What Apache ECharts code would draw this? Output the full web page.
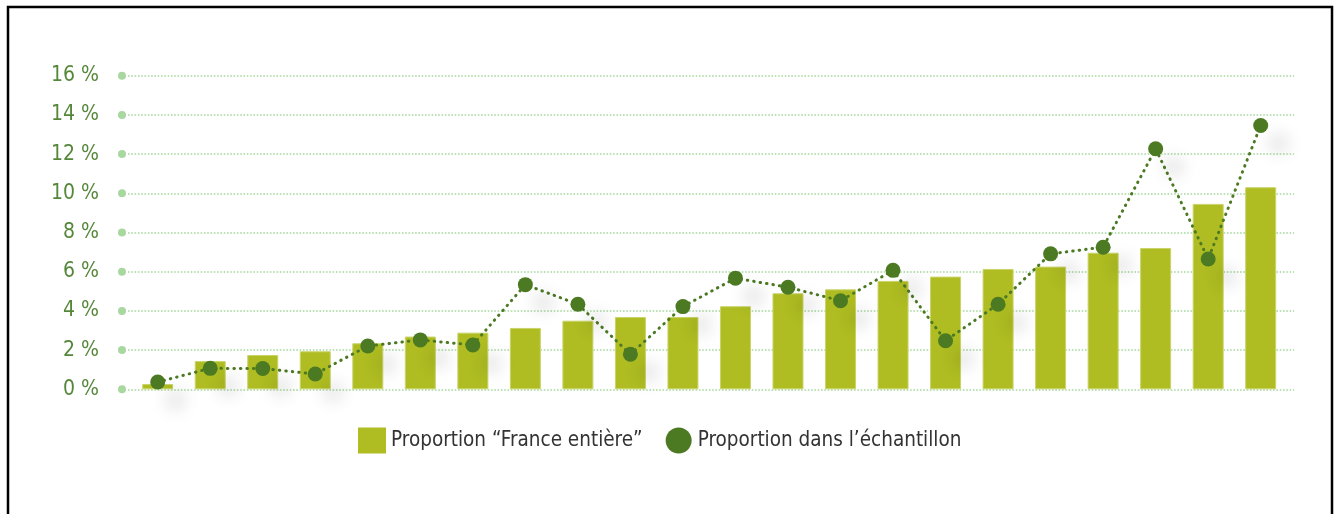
<!DOCTYPE html>
<html>
<head>
<meta charset="utf-8">
<script src="https://cdn.jsdelivr.net/npm/echarts@6/dist/echarts.min.js"></script>
<style>
html,body{margin:0;padding:0;background:#fff;}
#chart{width:1341px;height:514px;}
</style>
</head>
<body>
<div id="chart"></div>
<script>
// Data
const categories = ['1','2','3','4','5','6','7','8','9','10','11','12','13','14','15','16','17','18','19','20','21','22'];
const franceEntiere = [0.27, 1.44, 1.75, 1.94, 2.35, 2.69, 2.89, 3.13, 3.50, 3.69, 3.69, 4.24, 4.90, 5.10, 5.53, 5.75, 6.14, 6.26, 6.97, 7.21, 9.46, 10.31];
const echantillon = [0.37, 1.07, 1.06, 0.78, 2.21, 2.52, 2.26, 5.34, 4.34, 1.79, 4.22, 5.67, 5.21, 4.52, 6.07, 2.48, 4.34, 6.91, 7.25, 12.27, 6.65, 13.46];
const yTicks = [0, 2, 4, 6, 8, 10, 12, 14, 16];
const seriesNames = ['Proportion \u201cFrance enti\u00e8re\u201d', 'Proportion dans l\u2019\u00e9chantillon'];

const FONT = '"Liberation Sans Narrow", "DejaVu Sans Condensed", "Arial Narrow", "Liberation Sans", sans-serif';
const chart = echarts.init(document.getElementById('chart'));

const barData = categories.map((c, i) => [i, franceEntiere[i]]);
const lineData = categories.map((c, i) => [i, echantillon[i]]);

chart.setOption({
  animation: false,
  backgroundColor: '#ffffff',
  graphic: [{
    type: 'rect',
    shape: { x: 8, y: 7, width: 1324, height: 620 },
    style: { fill: 'none', stroke: '#000', lineWidth: 2.5 },
    silent: true
  }],
  grid: { left: 128, right: 47, top: 75.7, bottom: 124.7, containLabel: false },
  xAxis: {
    type: 'value',
    min: -0.5655,
    max: 21.634,
    show: false,
    splitLine: { show: false }
  },
  yAxis: {
    type: 'value',
    min: yTicks[0],
    max: yTicks[yTicks.length - 1],
    interval: 2,
    axisLine: { show: false },
    axisTick: { show: false },
    splitLine: { show: true, lineStyle: { color: '#a8d8a0', width: 1.6, type: [1.6, 1.7] } },
    axisLabel: {
      margin: 2,
      formatter: function (v) { return '{v|' + v + ' %}{s|}{d|}'; },
      rich: {
        v: { fontFamily: FONT, fontSize: 21, color: '#55873a' },
        s: { width: 19, height: 8 },
        d: { width: 8, height: 8, borderRadius: 4, backgroundColor: '#a8d8a0' }
      }
    }
  },
  legend: {
    left: 353,
    top: 422.5,
    itemWidth: 28,
    itemHeight: 26,
    itemGap: 23,
    textStyle: { fontFamily: FONT, fontSize: 20.5, color: '#333333' },
    itemStyle: { shadowBlur: 0, shadowColor: 'transparent', shadowOffsetX: 0, shadowOffsetY: 0, borderWidth: 0 },
    data: [
      { name: seriesNames[0], icon: 'rect' },
      { name: seriesNames[1], icon: 'circle' }
    ]
  },
  series: [
    {
      name: seriesNames[0],
      type: 'bar',
      barWidth: 31,
      data: barData,
      itemStyle: { color: '#afbd22', borderColor: '#c9d46a', borderWidth: 1 }
    },
    {
      name: seriesNames[1],
      type: 'line',
      data: lineData,
      symbol: 'circle',
      symbolSize: 15,
      z: 5,
      lineStyle: { color: '#4b7a22', width: 3, type: [0.5, 6], cap: 'round' },
      itemStyle: {
        color: '#4b7a22',
        shadowColor: 'rgba(0,0,0,0.2)',
        shadowBlur: 18,
        shadowOffsetX: 18,
        shadowOffsetY: 18
      }
    }
  ]
});
</script>
</body>
</html>
